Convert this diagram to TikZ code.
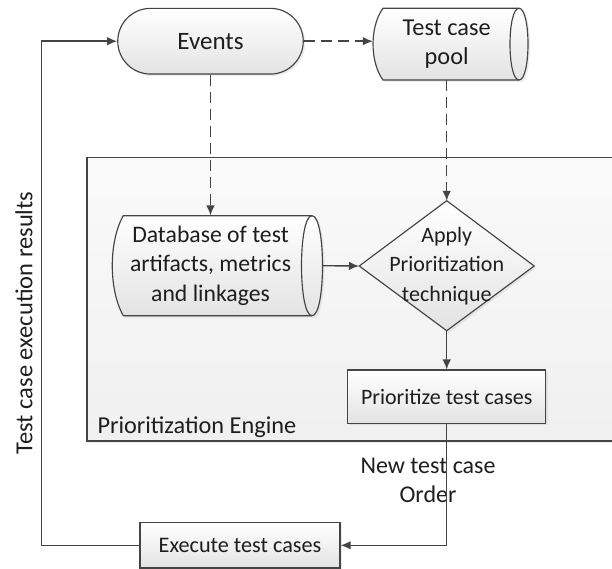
\documentclass[tikz,border=0pt]{standalone}
\usepackage{fontspec}
\setmainfont{Carlito}
\usetikzlibrary{arrows.meta,shadows}
\definecolor{ln}{HTML}{444444}
\definecolor{tx}{HTML}{1E1E1E}
\newcommand{\fs}[1]{\fontsize{#1}{29.5}\selectfont}
\tikzset{
  shp/.style={draw=ln, line width=1.15pt, top color=white, bottom color=black!11,
    drop shadow={opacity=0.15, shadow xshift=2pt, shadow yshift=-2pt}},
  txt/.style={text=tx, inner sep=0pt, align=center, font=\fs{23}},
  conn/.style={draw=ln, line width=1.4pt, -{Latex[length=10pt,width=8.5pt]}},
  dconn/.style={conn, dash pattern=on 11pt off 6pt},
}
\begin{document}
\begin{tikzpicture}[x=1pt,y=-1pt]
\useasboundingbox (0,0) rectangle (612,569);
% engine background
\path[top color=black!2, bottom color=black!6, drop shadow={opacity=0.12, shadow xshift=2pt, shadow yshift=-2pt}] (87,157.5) rectangle (620,441);
\draw[ln, line width=1.15pt] (620,157.5) -- (87,157.5) -- (87,441) -- (620,441);
% pool shape
\path[shp] (383,8.3) -- (519,8.3) .. controls (531,8.3) and (531,80) .. (519,80) -- (383,80) .. controls (369.7,62) and (369.7,26.3) .. (383,8.3) -- cycle;
\draw[ln, line width=1.15pt] (519,80) .. controls (507,80) and (507,8.3) .. (519,8.3);
% database shape
\path[shp] (123.3,215.7) -- (312,215.7) .. controls (326,215.7) and (326,315.7) .. (312,315.7) -- (123.3,315.7) .. controls (108.6,290) and (108.6,241.4) .. (123.3,215.7) -- cycle;
\draw[ln, line width=1.15pt] (312,315.7) .. controls (298,315.7) and (298,215.7) .. (312,215.7);
% diamond shape
\path[shp] (446.7,200.7) -- (534.2,266) -- (446.7,330.7) -- (359.2,266) -- cycle;
% nodes
\node[txt, font=\fs{25}, shp, rounded corners=32.8pt, minimum width=185.5pt, minimum height=65.7pt] (events) at (210.5,41.2) {Events};
\node[txt, font=\fs{24.3}, minimum width=147.4pt, minimum height=71.7pt] (pool) at (446.7,44.15) {Test case\\pool};
\node[txt, font=\fs{23.7}, minimum width=224.4pt, minimum height=100pt] (db) at (210.5,265.7) {Database of test\\artifacts, metrics\\and linkages};
\node[txt, font=\fs{22}, minimum width=175pt, minimum height=130pt] (diam) at (446.7,266) {Apply\\Prioritization\\technique};
\node[txt, font=\fs{22}, shp, minimum width=197.7pt, minimum height=53.3pt] (prio) at (446.7,396.7) {Prioritize test cases};
\node[txt, font=\fs{22.2}, shp, minimum width=200pt, minimum height=45.3pt] (exec) at (240,545.3) {Execute test cases};
\node[txt, font=\fs{24.3}, anchor=base west] (englbl) at (97.3,433) {Prioritization Engine};
\node[txt, font=\fs{24}] (order) at (428,480.5) {New test case\\Order};
\node[txt, font=\fs{24.5}, rotate=90] (results) at (24,323) {Test case execution results};
\coordinate (fb) at (41.7,0);
% connectors
\draw[dconn] (events.east) -- (events.east -| pool.west);
\draw[dconn] (events.south) -- (db.north);
\draw[dconn] (pool.south) -- (diam.north);
\draw[conn] (db.east) -- (diam.west);
\draw[conn] (diam.south) -- (prio.north);
\draw[conn] (prio.south) |- (exec.east);
\draw[conn] (exec.west) -- (exec.west -| fb) |- (events.west);
\end{tikzpicture}
\end{document}
